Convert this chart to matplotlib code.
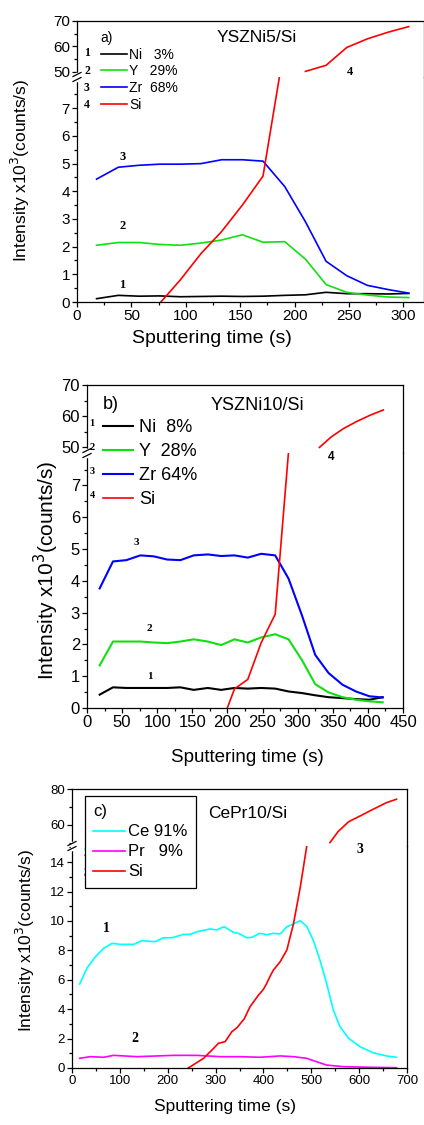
import matplotlib.pyplot as plt
from matplotlib.lines import Line2D
from matplotlib.ticker import MultipleLocator, FixedLocator

# ---- panel a) YSZNi5/Si ----
a_time = [18, 38, 57, 76, 95, 114, 133, 152, 171, 191, 210, 229, 248, 267, 286, 305]
a_ni = [0.12, 0.24, 0.21, 0.22, 0.19, 0.20, 0.21, 0.20, 0.21, 0.24, 0.26, 0.35, 0.30, 0.30, 0.29, 0.31]
a_y = [2.05, 2.15, 2.15, 2.08, 2.05, 2.13, 2.24, 2.43, 2.16, 2.18, 1.55, 0.63, 0.35, 0.25, 0.18, 0.16]
a_zr = [4.44, 4.87, 4.94, 4.98, 4.98, 5.00, 5.14, 5.14, 5.09, 4.17, 2.90, 1.47, 0.95, 0.60, 0.45, 0.32]
a_si_lo_time = [76, 95, 114, 133, 152, 171, 191]
a_si_lo = [-0.05, 0.80, 1.75, 2.55, 3.50, 4.55, 9.3]
a_si_hi_time = [210, 229, 248, 267, 286, 305]
a_si_hi = [50.2, 52.6, 59.6, 63.0, 65.6, 67.8]
a_labels = ['Ni   3%', 'Y   29%', 'Zr  68%', 'Si']

# ---- panel b) YSZNi10/Si ----
b_time = [18, 37, 56, 76, 95, 114, 133, 152, 172, 191, 210, 229, 248, 268, 287, 306,
          325, 344, 364, 383, 402, 421]
b_ni = [0.42, 0.65, 0.63, 0.63, 0.63, 0.63, 0.65, 0.57, 0.63, 0.57, 0.63, 0.61, 0.63, 0.61,
        0.52, 0.47, 0.40, 0.34, 0.31, 0.28, 0.26, 0.34]
b_y = [1.34, 2.09, 2.09, 2.09, 2.06, 2.04, 2.09, 2.16, 2.09, 1.98, 2.16, 2.06, 2.22, 2.32,
       2.16, 1.51, 0.75, 0.49, 0.34, 0.26, 0.21, 0.18]
b_zr = [3.76, 4.61, 4.65, 4.80, 4.77, 4.67, 4.65, 4.80, 4.83, 4.78, 4.80, 4.73, 4.85, 4.80,
        4.07, 2.92, 1.67, 1.10, 0.73, 0.52, 0.37, 0.33]
b_si_lo_time = [193, 210, 229, 248, 268, 289]
b_si_lo = [-0.4, 0.6, 0.9, 2.05, 2.95, 8.6]
b_si_hi_time = [331, 348, 365, 384, 403, 422]
b_si_hi = [50.0, 53.4, 56.0, 58.3, 60.3, 62.0]
b_labels = ['Ni  8%', 'Y  28%', 'Zr 64%', 'Si']

# ---- panel c) CePr10/Si ----
c_time = [16, 31, 49, 66, 84, 101, 129, 146, 174, 191, 209, 233, 247, 261, 289, 302, 318,
          337, 348, 365, 376, 392, 407, 421, 435, 449, 463, 477, 491, 504, 518, 532, 546,
          560, 578, 602, 629, 657, 678]
c_ce = [5.71, 6.78, 7.57, 8.14, 8.48, 8.41, 8.41, 8.66, 8.59, 8.86, 8.86, 9.09, 9.09, 9.27,
        9.46, 9.39, 9.61, 9.23, 9.16, 8.86, 8.89, 9.16, 9.07, 9.16, 9.12, 9.61, 9.80, 10.02,
        9.61, 8.70, 7.35, 5.76, 3.95, 2.81, 2.02, 1.45, 1.04, 0.82, 0.73]
c_pr_time = [16, 38, 66, 87, 136, 212, 261, 310, 351, 393, 435, 463, 490, 511, 532, 567, 623, 678]
c_pr = [0.66, 0.77, 0.73, 0.86, 0.77, 0.86, 0.86, 0.77, 0.77, 0.73, 0.82, 0.77, 0.66, 0.43,
        0.20, 0.09, 0.05, 0.02]
c_si_lo_time = [243, 275, 296, 306, 320, 334, 345, 360, 372, 390, 400, 407, 414, 421, 435,
                449, 463, 477, 492]
c_si_lo = [0.0, 0.66, 1.34, 1.68, 1.79, 2.47, 2.75, 3.35, 4.17, 4.97, 5.35, 5.76, 6.25, 6.67,
           7.23, 8.03, 9.84, 12.3, 15.4]
c_si_hi_time = [539, 556, 578, 602, 629, 657, 678]
c_si_hi = [50.2, 56.3, 61.8, 65.0, 68.7, 72.4, 74.3]
c_labels = ['Ce 91%', 'Pr   9%', 'Si']

W, H = 424, 1125
plt.rcParams['font.family'] = ['Liberation Sans', 'DejaVu Sans']
SERIF = ['Liberation Serif', 'DejaVu Serif']
GREEN = '#10e010'


def px(x, y):
    return x / W, 1 - y / H


def panel(fig, l, t, mid, r, b, hi_lim, lo_lim, xlim, steps, lo_top, tsize):
    ax_hi = fig.add_axes([l / W, 1 - mid / H, (r - l) / W, (mid - t) / H])
    ax_lo = fig.add_axes([l / W, 1 - b / H, (r - l) / W, (b - mid) / H], sharex=ax_hi)
    ax_lo.patch.set_alpha(0)
    xmaj, himaj, lomaj = steps
    for ax in (ax_hi, ax_lo):
        ax.tick_params(which='both', direction='out', right=False, top=False,
                       labelsize=tsize, width=0.9, pad=1.5)
        ax.tick_params(which='major', length=3.5)
        ax.tick_params(which='minor', length=2)
        for s in ax.spines.values():
            s.set_linewidth(0.9)
    ax_hi.spines['bottom'].set_visible(False)
    ax_lo.spines['top'].set_visible(False)
    ax_hi.tick_params(which='both', bottom=False, labelbottom=False)
    ax_hi.set_ylim(*hi_lim)
    ax_lo.set_ylim(*lo_lim)
    ax_lo.set_xlim(*xlim)
    ax_lo.xaxis.set_major_locator(MultipleLocator(xmaj))
    ax_lo.xaxis.set_minor_locator(MultipleLocator(xmaj / 2))
    ax_hi.yaxis.set_major_locator(MultipleLocator(himaj))
    ax_hi.yaxis.set_minor_locator(MultipleLocator(himaj / 2))
    majors = [lomaj * k for k in range(int(lo_top / lomaj) + 1)]
    ax_lo.yaxis.set_major_locator(FixedLocator(majors))
    ax_lo.yaxis.set_minor_locator(FixedLocator([m + lomaj / 2 for m in majors]))
    # break marks on the left axis
    x0, y0 = px(l, mid)
    fig.add_artist(Line2D([x0, x0], [y0 - 3 / H, y0 + 3 / H], color='white', lw=2.5))
    for dy in (-2.5, 2.5):
        fig.add_artist(Line2D([x0 - 4 / W, x0 + 4 / W], [y0 + (dy - 2) / H, y0 + (dy + 2) / H],
                              color='k', lw=0.9))
    return ax_hi, ax_lo


def num(ax_or_fig, x, y, s, size, **kw):
    kw.setdefault('family', SERIF)
    ax_or_fig.text(x, y, s, fontsize=size, fontweight='bold', ha='center', va='center', **kw)


fig = plt.figure(figsize=(W / 100, H / 100), dpi=100)

# ===== a =====
ah, al = panel(fig, 77, 21, 77, 424, 302, (48.0, 70), (0, 8.13), (0, 319),
               (50, 10, 1), 7, 11)
for ax in (ah, al):
    l1, = ax.plot(a_time, a_ni, color='k', lw=1.2)
    l2, = ax.plot(a_time, a_y, color=GREEN, lw=1.2)
    l3, = ax.plot(a_time, a_zr, color='#0000ff', lw=1.2)
    l4, = ax.plot(a_si_lo_time, a_si_lo, color='#ff0000', lw=1.2)
    ax.plot(a_si_hi_time, a_si_hi, color='#ff0000', lw=1.2)
lines = [l1, l2, l3, l4]
fig.legend(lines, a_labels, loc='upper left', bbox_to_anchor=px(98, 28), frameon=False,
           title='a)', alignment='left', fontsize=10, title_fontsize=10, borderaxespad=0,
           handlelength=1.9, handletextpad=0.15, labelspacing=0.2, borderpad=0.2)
for i, n in enumerate(['1', '2', '3', '4']):
    num(fig, *px(87, 53 + 17.5 * i), n, 8.5)
fig.text(*px(257, 38), 'YSZNi5/Si', fontsize=12.5, ha='center', va='center')
num(al, 41.8, 5.23, '3', 9)
num(al, 41.8, 2.75, '2', 9)
num(al, 41.8, 0.62, '1', 9)
num(ah, 251, 50.1, '4', 9)
fig.text(*px(20, 170), 'Intensity x10$^3$(counts/s)', fontsize=12.5, rotation=90,
         ha='center', va='center')
fig.text(*px(212, 338), 'Sputtering time (s)', fontsize=14, ha='center', va='center')

# ===== b =====
bh, bl = panel(fig, 87, 385, 453, 403, 708, (48.2, 70), (0, 8.02), (0, 450),
               (50, 10, 1), 7, 12)
for ax in (bh, bl):
    l1, = ax.plot(b_time, b_ni, color='k', lw=1.5)
    l2, = ax.plot(b_time, b_y, color=GREEN, lw=1.5)
    l3, = ax.plot(b_time, b_zr, color='#0000ff', lw=1.5)
    l4, = ax.plot(b_si_lo_time, b_si_lo, color='#ff0000', lw=1.2)
    ax.plot(b_si_hi_time, b_si_hi, color='#ff0000', lw=1.2)
lines = [l1, l2, l3, l4]
fig.legend(lines, b_labels, loc='upper left', bbox_to_anchor=px(99, 392), frameon=False,
           title='b)', alignment='left', fontsize=13, title_fontsize=13, borderaxespad=0,
           handlelength=1.7, handletextpad=0.3, labelspacing=0.38, borderpad=0.2)
for i, n in enumerate(['1', '2', '3', '4']):
    num(fig, *px(92, 424 + 23.7 * i), n, 7.5)
fig.text(*px(257, 405), 'YSZNi10/Si', fontsize=13, ha='center', va='center')
num(bl, 70, 5.2, '3', 8)
num(bl, 89, 2.5, '2', 8)
num(bl, 89, 1.0, '1', 8)
num(bh, 348, 46.8, '4', 8.5, family='Liberation Sans')
fig.text(*px(46, 570), 'Intensity x10$^3$(counts/s)', fontsize=15, rotation=90,
         ha='center', va='center')
fig.text(*px(247, 757), 'Sputtering time (s)', fontsize=13.5, ha='center', va='center')

# ===== c =====
ch, cl = panel(fig, 72, 789, 846, 407, 1068, (48.3, 80), (0, 15.1), (0, 700),
               (100, 20, 2), 14, 9.5)
for ax in (ch, cl):
    l1, = ax.plot(c_time, c_ce, color='#00ffff', lw=1.2)
    l2, = ax.plot(c_pr_time, c_pr, color='#ff00ff', lw=1.2)
    l3, = ax.plot(c_si_lo_time, c_si_lo, color='#ff0000', lw=1.2)
    ax.plot(c_si_hi_time, c_si_hi, color='#ff0000', lw=1.2)
lines = [l1, l2, l3]
leg = fig.legend(lines, c_labels, loc='upper left', bbox_to_anchor=px(85, 796), frameon=True,
                 fancybox=False, edgecolor='k', framealpha=1, borderaxespad=0,
                 title='c)', alignment='left', fontsize=12, title_fontsize=12,
                 handlelength=1.9, handletextpad=0.2, labelspacing=0.3, borderpad=0.5)
leg.get_frame().set_linewidth(0.9)
for i, n in enumerate(['1', '2', '3']):
    num(fig, *px(87, 833 + 20 * i), n, 9)
fig.text(*px(248, 813), 'CePr10/Si', fontsize=12.5, ha='center', va='center')
num(cl, 71, 9.5, '1', 10)
num(cl, 131, 2.0, '2', 10)
num(ch, 601, 46.1, '3', 10)
fig.text(*px(25, 940), 'Intensity x10$^3$(counts/s)', fontsize=12.5, rotation=90,
         ha='center', va='center')
fig.text(*px(225, 1107), 'Sputtering time (s)', fontsize=12.5, ha='center', va='center')

fig.savefig('out.png', dpi=100)
